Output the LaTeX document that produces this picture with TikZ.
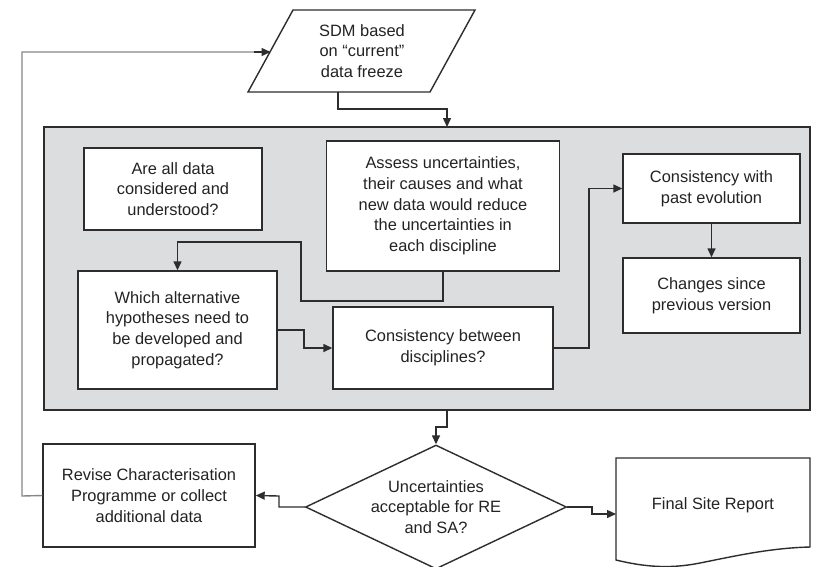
\documentclass[tikz,border=0pt]{standalone}
\usepackage{fontspec}
\setmainfont{Liberation Sans}
\usetikzlibrary{arrows.meta,shapes.geometric}
\definecolor{panelgray}{RGB}{220,221,223}
\definecolor{lineC}{RGB}{45,45,45}
\definecolor{loopC}{RGB}{135,135,135}
\definecolor{txtC}{RGB}{35,35,35}
\tikzset{
  txt/.style={font=\fontsize{16.4}{20.7}\selectfont, text=txtC, align=center, inner sep=0pt},
  box/.style={txt, draw=lineC, line width=1.4pt, fill=white, rectangle},
  arr/.style={draw=lineC, line width=1.4pt, -{Triangle[length=9pt,width=8pt]}}
}
\begin{document}
\begin{tikzpicture}[x=1pt,y=-1pt]
\useasboundingbox (0,0) rectangle (813,566);
\fill[white] (0,0) rectangle (813,566);

% gray panel
\node[draw=lineC, line width=1.4pt, fill=panelgray, minimum width=766pt, minimum height=283pt, inner sep=0pt] (panel) at (427,268.5) {};

% parallelogram
\draw[draw=lineC, line width=1.4pt, fill=white] (293,10) -- (475,10) -- (430,92) -- (248,92) -- cycle;
\node[txt] (sdm) at (362,51) {SDM based\\on “current”\\data freeze};
\coordinate (sdmL) at (270.5,52);
\coordinate (sdmB) at (338,92);

% inner boxes
\node[box, minimum width=178pt, minimum height=82pt] (are) at (173,189) {Are all data\\considered and\\understood?};
\node[box, minimum width=233pt, minimum height=130pt] (assess) at (443,206) {Assess uncertainties,\\their causes and what\\new data would reduce\\the uncertainties in\\each discipline};
\node[box, minimum width=177pt, minimum height=69pt] (past) at (711.5,188.5) {Consistency with\\past evolution};
\node[box, minimum width=177pt, minimum height=75pt] (changes) at (711.5,295.5) {Changes since\\previous version};
\node[box, minimum width=199pt, minimum height=118pt] (which) at (177.5,330) {Which alternative\\hypotheses need to\\be developed and\\propagated?};
\node[box, minimum width=220pt, minimum height=82pt] (between) at (443,348) {Consistency between\\disciplines?};

% bottom row
\node[box, minimum width=212pt, minimum height=103pt] (revise) at (149,495.5) {Revise Characterisation\\Programme or collect\\additional data};
\node[txt, shape=diamond, draw=lineC, line width=1.4pt, fill=white, aspect=2.1, minimum width=261pt, minimum height=124pt] (dec) at (436,507) {Uncertainties\\acceptable for RE\\and SA?};

% document shape
\draw[draw=lineC, line width=1.4pt, fill=white] (616,458) -- (810,458) -- (810,547)
  .. controls (770,548) and (735,556) .. (700,563)
  .. controls (670,569) and (645,567) .. (616,560) -- cycle;
\node[txt] (fsr) at (713,505) {Final Site Report};
\coordinate (fsrIn) at (616,514);

% connectors
\coordinate (pin) at (447,127);
\draw[arr] (sdmB) -- (338,109) -- (447,109) -- (pin);
\draw[arr] (assess.south) -- (443,301) -- (301,301) -- (301,242) -- (177.5,242) -- (which.north);
\draw[arr] (which.east) -- (304,330) -- (304,348) -- (between.west);
\draw[arr] (between.east) -- (589,348) |- (past.west);
\draw[arr] (past.south) -- (changes.north);
\coordinate (pout) at (447,410);
\draw[arr] (pout) -- (447,427) -- (436,427) -- (dec.north);
\draw[arr] (dec.west) -- (279,507) -- (279,496) -- (revise.east);
\draw[arr] (dec.east) -- (592,507) -- (592,514) -- (fsrIn);
\draw[draw=loopC, line width=1.4pt] (revise.west) -- (22,496) -- (22,52) -- (255,52);
\draw[arr] (254,52) -- (sdmL);
\end{tikzpicture}
\end{document}
